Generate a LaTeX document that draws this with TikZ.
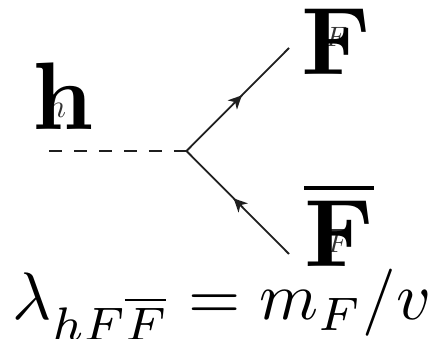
\documentclass[tikz,border=0pt]{standalone}
\usepackage{amsmath}
\usetikzlibrary{arrows.meta,decorations.markings}
\tikzset{
  line/.style={draw=black!88,line width=1.8pt},
  fermion/.style={line,postaction={decorate},decoration={markings,mark=at position #1 with {\arrow{Stealth[length=13.5pt,width=13pt,inset=4pt]}}}},
  boson/.style={line,dash pattern=on 12.8pt off 12.1pt},
  bigtext/.style={inner sep=0pt,anchor=base west,text=black,scale=9.6},
  smalltext/.style={inner sep=0pt,anchor=base west,text=black!80,scale=#1},
  formulatext/.style={inner sep=0pt,anchor=base west,text=black,scale=6.72},
}
\begin{document}
\begin{tikzpicture}[x=1pt,y=-1pt]
\useasboundingbox (0,0) rectangle (429,339);
\clip (0,0) rectangle (429,339);
\coordinate (hend) at (49.3,151);
\coordinate (vertex) at (186.5,151);
\coordinate (fend) at (289,48);
\coordinate (fbarend) at (289,254);
\draw[boson] (hend) -- (vertex);
\draw[fermion=0.54] (vertex) -- (fend);
\draw[fermion=0.54] (fbarend) -- (vertex);
\node[smalltext=3.3] (hsmall) at (46.5,118) {$h$};
\node[smalltext=2.8] (fsmall) at (325,47) {$F$};
\node[smalltext=2.8] (fbarsmall) at (327,253) {$\overline{F}$};
\node[bigtext] (hbig) at (30.5,129.5) {$\mathbf{h}$};
\node[bigtext] (fbig) at (300,75) {$\mathbf{F}$};
\node[bigtext] (fbarbig) at (302.5,267) {$\overline{\mathbf{F}}$};
\node[formulatext] (formula) at (11.5,320) {$\lambda_{hF\overline{F}}=m_F/v$};
\end{tikzpicture}
\end{document}
